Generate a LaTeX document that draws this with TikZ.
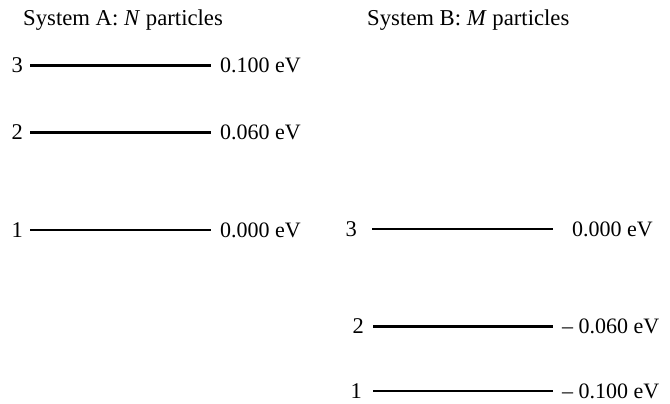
\documentclass[tikz,border=0pt]{standalone}
\usepackage{fontspec}
\setmainfont{Liberation Serif}
\usepackage{tikz}
\usetikzlibrary{positioning}
\tikzset{
  titulo/.style={anchor=base west, inner sep=0pt, font=\fontsize{22.7}{27}\selectfont},
  num/.style={inner sep=0pt, font=\fontsize{22.5}{27}\selectfont},
  valor/.style={inner sep=0pt, font=\fontsize{22}{26}\selectfont},
  nivel/.style={line width=3pt, color=black},
  nivelf/.style={line width=2pt, color=black}
}
\begin{document}
\begin{tikzpicture}[x=1pt, y=-1pt]
  \useasboundingbox (0,0) rectangle (670,404);
  % sistema A
  \node[titulo] (tA) at (23,26) {System A: \textit{N} particles};
  \coordinate (a3l) at (30,65.5);  \coordinate (a3r) at (211,65.5);
  \coordinate (a2l) at (30,132.5); \coordinate (a2r) at (211,132.5);
  \coordinate (a1l) at (30,230);   \coordinate (a1r) at (211,230);
  \draw[nivel]  (a3l) -- (a3r);
  \draw[nivel]  (a2l) -- (a2r);
  \draw[nivelf] (a1l) -- (a1r);
  \node[num, left=7pt of a3l] (na3) {3};
  \node[num, left=7pt of a2l] (na2) {2};
  \node[num, left=7pt of a1l] (na1) {1};
  \node[valor, right=9pt of a3r] (va3) {0.100 eV};
  \node[valor, right=9pt of a2r] (va2) {0.060 eV};
  \node[valor, right=9pt of a1r] (va1) {0.000 eV};
  % sistema B
  \node[titulo] (tB) at (367,26) {System B: \textit{M} particles};
  \coordinate (b3l) at (372,229);   \coordinate (b3r) at (553,229);
  \coordinate (b2l) at (373,326.5); \coordinate (b2r) at (553,326.5);
  \coordinate (b1l) at (373,391);   \coordinate (b1r) at (553,391);
  \draw[nivelf] (b3l) -- (b3r);
  \draw[nivel]  (b2l) -- (b2r);
  \draw[nivelf] (b1l) -- (b1r);
  \node[num, left=15pt of b3l] (nb3) {3};
  \node[num, left=9pt of b2l] (nb2) {2};
  \node[num, left=11pt of b1l] (nb1) {1};
  \node[valor, right=19pt of b3r] (vb3) {0.000 eV};
  \node[valor, right=9pt of b2r] (vb2) {\textendash\ 0.060 eV};
  \node[valor, right=9pt of b1r] (vb1) {\textendash\ 0.100 eV};
\end{tikzpicture}
\end{document}
